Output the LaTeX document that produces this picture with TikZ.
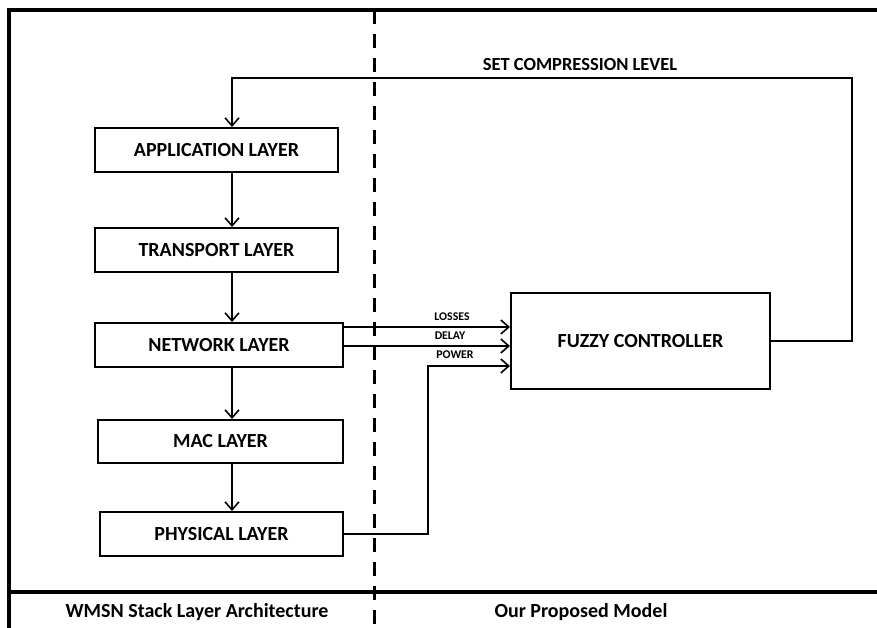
\documentclass[tikz,border=0pt]{standalone}
\usepackage{fontspec}
\setmainfont{Carlito}
\usetikzlibrary{arrows.meta}
\begin{document}
\begin{tikzpicture}[x=1pt,y=-1pt,
  layer/.style={draw,line width=2pt,font=\bfseries\fontsize{20}{20}\selectfont,inner sep=0pt,anchor=center},
  arr/.style={line width=2pt,-{Straight Barb[length=8pt,width=14pt,line width=1.6pt]}},
  conn/.style={line width=2pt},
  small/.style={font=\bfseries\fontsize{11.8}{12}\selectfont,inner sep=0pt},
  frame/.style={line width=4pt}]
\useasboundingbox (0,0) rectangle (877,628);
% frame
\draw[frame] (9,628) -- (9,10) -- (877,10);
\draw[frame] (9,592) -- (877,592);
\draw[line width=3pt,dash pattern=on 14pt off 10pt] (374,10) -- (374,628);
% layers
\node[layer,minimum width=243pt,minimum height=44pt] (app) at (216.5,150) {APPLICATION LAYER};
\node[layer,minimum width=243pt,minimum height=44pt] (trans) at (216.5,250) {TRANSPORT LAYER};
\node[layer,minimum width=248pt,minimum height=44pt] (net) at (219,345) {NETWORK LAYER};
\node[layer,minimum width=245pt,minimum height=43pt] (mac) at (220.5,441.5) {MAC LAYER};
\node[layer,minimum width=243pt,minimum height=44pt] (phys) at (221.5,534) {PHYSICAL LAYER};
\node[layer,minimum width=259pt,minimum height=96pt] (fz) at (640.5,341) {FUZZY CONTROLLER};
% vertical arrows
\coordinate (vx) at (232,0);
\draw[arr] (app.south -| vx) -- (trans.north -| vx);
\draw[arr] (trans.south -| vx) -- (net.north -| vx);
\draw[arr] (net.south -| vx) -- (mac.north -| vx);
\draw[arr] (mac.south -| vx) -- (phys.north -| vx);
% feedback
\coordinate (fbR) at (852,78);
\coordinate (fbL) at (232,78);
\draw[arr] (fz.east) -| (fbR) -- (fbL) -- (app.north -| fbL);
\node[font=\bfseries\fontsize{18.5}{19}\selectfont,inner sep=0pt] (setlbl) at (580,65) {SET COMPRESSION LEVEL};
% inputs
\coordinate (lo) at (0,327);
\coordinate (de) at (0,346);
\draw[arr] (net.east |- lo) -- (fz.west |- lo);
\draw[arr] (net.east |- de) -- (fz.west |- de);
\coordinate (pw) at (428,366);
\draw[arr] (phys.east) -| (pw) -- (pw -| fz.west);
\node[small] (llos) at (452,317) {LOSSES};
\node[small] (ldel) at (450,336) {DELAY};
\node[small] (lpow) at (455,355) {POWER};
% bottom labels
\node[font=\bfseries\fontsize{20}{20}\selectfont,inner sep=0pt] (lwmsn) at (197,612) {WMSN Stack Layer Architecture};
\node[font=\bfseries\fontsize{20}{20}\selectfont,inner sep=0pt] (lour) at (581,612) {Our Proposed Model};
\end{tikzpicture}
\end{document}
